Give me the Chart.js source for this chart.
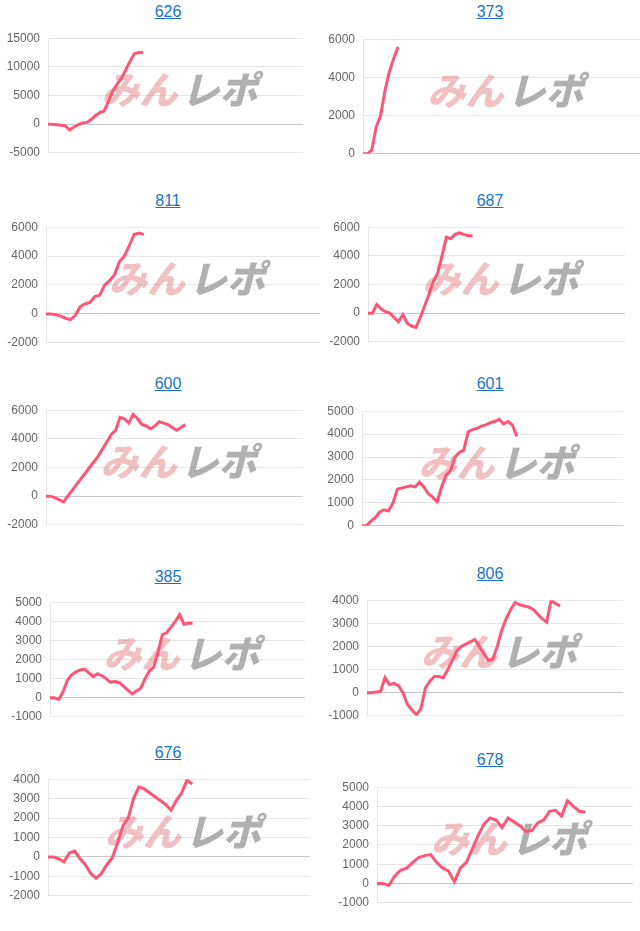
<!DOCTYPE html>
<html>
<head>
<meta charset="utf-8">
<script src="https://cdn.jsdelivr.net/npm/chart.js@4"></script>
<style>
  body { margin: 0; background: #fff; font-family: "Liberation Sans", Arial, sans-serif; }
  .box { position: absolute; }
  .ttl { position: absolute; transform: translateX(-50%); color: #1a73c8; text-decoration: underline; font-size: 16px; }
</style>
</head>
<body>
<script>
// chart titles
const titles = ["626", "373", "811", "687", "600", "601", "385", "806", "676", "678"];

// series values (cumulative)
const s626 = [0, 0, -100, -200, -300, -1000, -500, -100, 200, 300, 800, 1500, 2000, 2300, 4000, 5800, 7000, 8000, 9500, 11000, 12300, 12500, 12500];
const s373 = [0, 0, 200, 1400, 2000, 3300, 4300, 5000, 5600];
const s811 = [0, 0, -50, -150, -300, -400, -100, 500, 700, 800, 1200, 1300, 2000, 2300, 2700, 3600, 4000, 4700, 5500, 5600, 5500];
const s687 = [0, 0, 600, 300, 100, 0, -300, -600, -100, -700, -900, -1000, -300, 500, 1300, 2200, 2800, 4000, 5300, 5200, 5500, 5600, 5500, 5400, 5400];
const s600 = [0, 0, -100, -250, -400, 0, 400, 800, 1200, 1600, 2000, 2400, 2800, 3300, 3800, 4300, 4600, 5500, 5400, 5100, 5700, 5400, 5000, 4900, 4700, 4900, 5200, 5100, 5000, 4800, 4600, 4800, 5000];
const s601 = [0, 0, 200, 350, 600, 700, 650, 1000, 1600, 1650, 1700, 1750, 1700, 1900, 1700, 1400, 1250, 1050, 1700, 2200, 2400, 3000, 3200, 3300, 4100, 4200, 4250, 4350, 4400, 4500, 4550, 4650, 4450, 4550, 4400, 3900];
const s385 = [0, 0, -100, 300, 900, 1200, 1350, 1450, 1500, 1300, 1100, 1250, 1150, 1000, 800, 850, 800, 600, 400, 200, 350, 500, 1000, 1400, 1600, 2400, 3300, 3400, 3700, 4000, 4350, 3850, 3900, 3900];
const s806 = [0, 0, 30, 50, 650, 350, 400, 300, 0, -500, -750, -950, -700, 200, 500, 700, 700, 650, 1000, 1400, 1800, 2000, 2100, 2200, 2300, 2000, 1700, 1400, 1450, 2000, 2700, 3200, 3600, 3900, 3800, 3750, 3700, 3600, 3400, 3200, 3050, 4000, 3850, 3750];
const s676 = [0, 0, -100, -250, 200, 300, -100, -400, -850, -1100, -850, -400, -50, 700, 1600, 2000, 3000, 3600, 3500, 3300, 3100, 2900, 2700, 2400, 2900, 3300, 3950, 3750];
const s678 = [0, 0, -100, 400, 700, 800, 1100, 1350, 1450, 1500, 1100, 800, 650, 100, 800, 1100, 1800, 2500, 3100, 3400, 3300, 2900, 3400, 3200, 3000, 2700, 2750, 3150, 3300, 3750, 3800, 3500, 4300, 4000, 3750, 3700];
const series = [s626, s373, s811, s687, s600, s601, s385, s806, s676, s678];

// x slots per chart (games axis, unlabeled)
const xSlots = [60, 64, 57, 60, 60, 60, 60, 58, 50, 44];

// y axis ticks
const yMin = [-5000, 0, -2000, -2000, -2000, 0, -1000, -1000, -2000, -1000];
const yMax = [15000, 6000, 6000, 6000, 6000, 5000, 5000, 4000, 4000, 5000];
const yStep = [5000, 2000, 2000, 2000, 2000, 1000, 1000, 1000, 1000, 1000];

// plot area boxes: [left, top, width, height] and title position [x, y]
const plotBox = [
  [48, 31, 255, 129], [363, 32, 277, 129],
  [46, 220, 274, 130], [368, 220, 257, 129],
  [46, 403, 257, 129], [362, 404, 261, 129],
  [50, 595, 255, 129], [367, 593, 256, 130],
  [48, 772, 262, 131], [377, 780, 256, 130]
];
const titlePos = [[168, 3], [490, 3], [168, 192], [490, 192], [168, 375], [490, 375], [168, 568], [490, 565], [168, 744], [490, 751]];

const AXIS_W = 48;
const PAD = 8;

// watermark drawn in the middle of each plot
const watermark = {
  id: "watermark",
  beforeDatasetsDraw(chart) {
    const a = chart.chartArea;
    const ctx = chart.ctx;
    const cx = (a.left + a.right) / 2 + 2;
    const cy = (a.top + a.bottom) / 2 - 6;
    ctx.save();
    ctx.font = "italic 900 38px 'Noto Sans CJK JP', sans-serif";
    ctx.textBaseline = "middle";
    ctx.textAlign = "right";
    ctx.fillStyle = "rgba(225,130,135,0.5)";
    ctx.fillText("みん", cx, cy);
    ctx.textAlign = "left";
    ctx.fillStyle = "rgba(150,150,150,0.75)";
    ctx.fillText("レポ", cx + 4, cy);
    ctx.restore();
  }
};

titles.forEach(function (t, i) {
  const [l, top, w, h] = plotBox[i];
  const ttl = document.createElement("a");
  ttl.className = "ttl";
  ttl.textContent = t;
  ttl.style.left = titlePos[i][0] + "px";
  ttl.style.top = titlePos[i][1] + "px";
  document.body.appendChild(ttl);

  const box = document.createElement("div");
  box.className = "box";
  box.style.left = (l - AXIS_W) + "px";
  box.style.top = (top - PAD) + "px";
  box.style.width = (w + AXIS_W) + "px";
  box.style.height = (h + PAD * 2) + "px";
  const canvas = document.createElement("canvas");
  box.appendChild(canvas);
  document.body.appendChild(box);

  const labels = [];
  for (let k = 0; k < xSlots[i]; k++) labels.push(k);

  new Chart(canvas, {
    type: "line",
    data: {
      labels: labels,
      datasets: [{
        data: series[i],
        borderColor: "#ff5575",
        borderWidth: 3,
        pointRadius: 0,
        tension: 0,
        fill: false
      }]
    },
    options: {
      responsive: true,
      maintainAspectRatio: false,
      animation: false,
      layout: { padding: { top: PAD, bottom: PAD, left: 0, right: 0 } },
      plugins: { legend: { display: false }, tooltip: { enabled: false } },
      scales: {
        x: { display: false },
        y: {
          min: yMin[i],
          max: yMax[i],
          afterFit: function (s) { s.width = AXIS_W; },
          ticks: {
            stepSize: yStep[i],
            padding: 8,
            color: "#666",
            font: { size: 12, family: "'Liberation Sans', Arial, sans-serif" },
            callback: function (v) { return String(v); }
          },
          grid: {
            drawTicks: false,
            color: function (c) { return c.tick.value === 0 ? "#c8c8c8" : "#e6e6e6"; }
          },
          border: { color: "#e6e6e6" }
        }
      }
    },
    plugins: [watermark]
  });
});
</script>
</body>
</html>
